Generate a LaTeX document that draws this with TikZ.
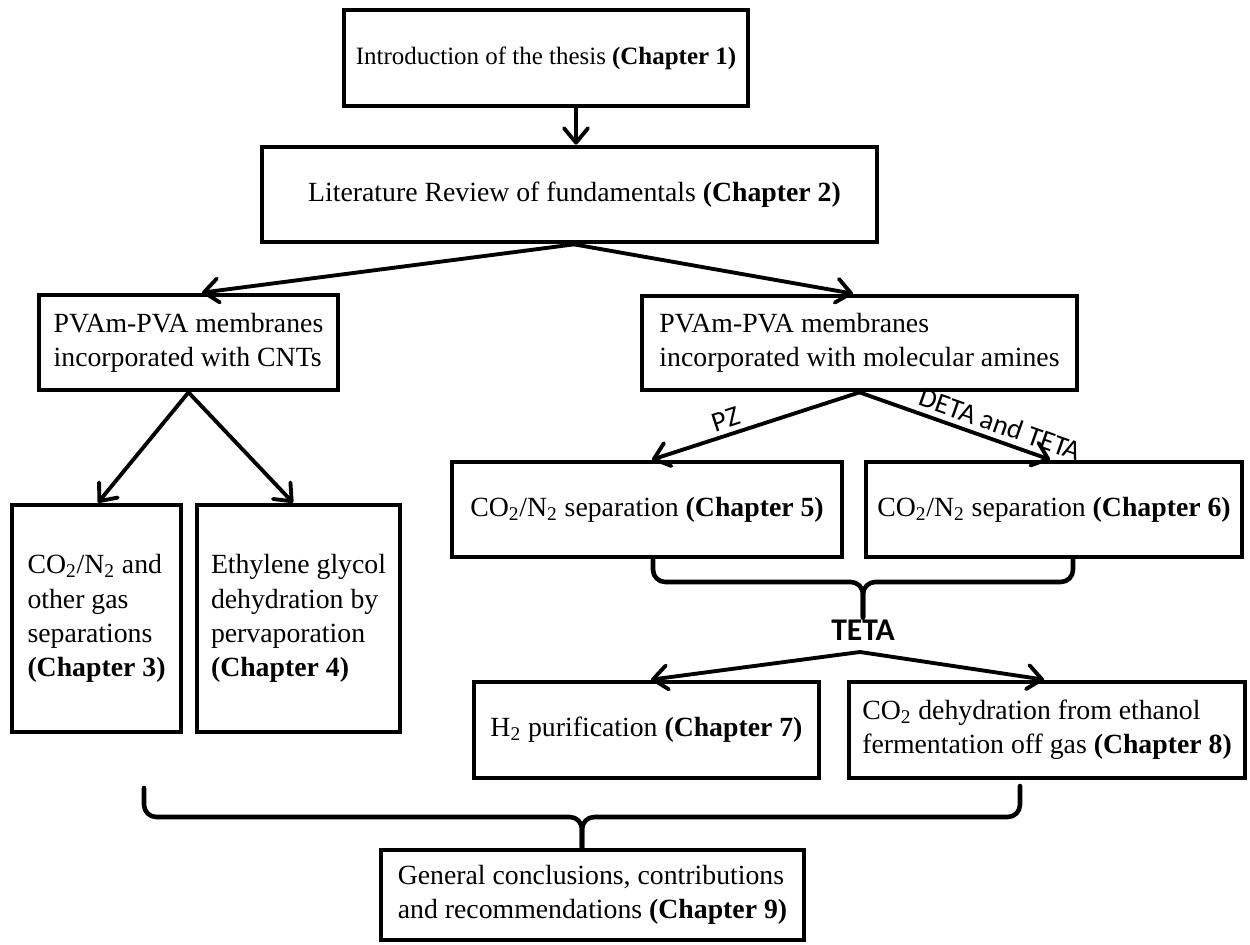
\documentclass[tikz,border=0pt]{standalone}
\usepackage{fontspec}
\setmainfont{Liberation Serif}
\newfontfamily\calibri{Carlito}
\usetikzlibrary{arrows.meta}
\begin{document}
\begin{tikzpicture}[x=0.02cm,y=-0.02cm,
  box/.style={draw, line width=2.7pt, inner sep=0pt, align=left, font=\fontsize{15.8}{19.5}\selectfont},
  arr/.style={line width=2.2pt, line cap=round, -{Straight Barb[length=2.9mm,width=4.8mm,line cap=round,line join=round]}},
  brace/.style={line width=2.6pt, rounded corners=7pt, line cap=round},
  lbl/.style={font=\calibri\fontsize{16}{18}\selectfont, inner sep=1pt},
  tlbl/.style={font=\calibri\bfseries\fontsize{18}{20}\selectfont, inner sep=1pt}]
\useasboundingbox (0,0) rectangle (1250,945);

% boxes
\node[box, minimum width=8.08cm, minimum height=1.92cm, font=\fontsize{14.2}{19}\selectfont] (b1) at (546,58) {Introduction of the thesis \textbf{(Chapter 1)}};
\node[box, minimum width=12.3cm, minimum height=1.9cm] (b2) at (569.5,194.5) {\hspace*{0.2cm}Literature Review of fundamentals \textbf{(Chapter 2)}};
\node[box, minimum width=5.98cm, minimum height=1.9cm] (b3) at (188.5,342.5) {PVAm-PVA membranes\\incorporated with CNTs};
\node[box, minimum width=8.7cm, minimum height=1.88cm] (b4) at (859.5,343) {PVAm-PVA membranes\\incorporated with molecular amines};
\node[box, minimum width=3.38cm, minimum height=4.54cm] (b5) at (96.5,618.5) {CO\textsubscript{2}/N\textsubscript{2} and\\other gas\\separations\\\textbf{(Chapter 3)}};
\node[box, minimum width=4.06cm, minimum height=4.54cm] (b6) at (298.5,618.5) {Ethylene glycol\\dehydration by\\pervaporation\\\textbf{(Chapter 4)}};
\node[box, minimum width=7.8cm, minimum height=1.9cm] (b7) at (647,509.5) {CO\textsubscript{2}/N\textsubscript{2} separation \textbf{(Chapter 5)}};
\node[box, minimum width=7.52cm, minimum height=1.9cm] (b8) at (1054,509.5) {CO\textsubscript{2}/N\textsubscript{2} separation \textbf{(Chapter 6)}};
\node[box, minimum width=6.9cm, minimum height=1.92cm] (b9) at (646.5,730) {H\textsubscript{2} purification \textbf{(Chapter 7)}};
\node[box, minimum width=7.92cm, minimum height=1.92cm] (b10) at (1047,730) {CO\textsubscript{2} dehydration from ethanol\\fermentation off gas \textbf{(Chapter 8)}};
\node[box, minimum width=8.46cm, minimum height=1.8cm] (b11) at (592.5,895) {General conclusions, contributions\\and recommendations \textbf{(Chapter 9)}};

\node[tlbl] (teta) at (863,630) {TETA};

% helper x positions
\coordinate (p1) at (576,0);
\coordinate (p2) at (574,0);
\coordinate (p3) at (202,0);
\coordinate (p4) at (853,0);
\coordinate (p5) at (98,0);
\coordinate (p6) at (293,0);
\coordinate (p7) at (652,0);
\coordinate (p8) at (1050,0);
\coordinate (p9) at (651,0);
\coordinate (p10) at (1044,0);
\coordinate (t1) at (653,0);
\coordinate (t2) at (1073,0);
\coordinate (tm) at (863,582);
\coordinate (ap) at (860,652);
\coordinate (ob1) at (144,788);
\coordinate (ob2) at (1020,786);
\coordinate (om) at (582,817);

% arrows
\draw[arr] (b1.south -| p1) -- (b2.north -| p1);
\draw[arr] (b2.south -| p2) -- (b3.north -| p3);
\draw[arr] (b2.south -| p2) -- (b4.north -| p4);
\draw[arr] (b3.south) -- (b5.north -| p5);
\draw[arr] (b3.south) -- (b6.north -| p6);
\draw[arr] (b4.south) -- node[lbl, sloped, above=1.5pt, pos=0.62] {PZ} (b7.north -| p7);
\draw[arr] (b4.south) -- node[lbl, sloped, above=2pt, pos=0.71] {DETA and TETA} (b8.north -| p8);
\draw[arr] (ap) -- (b9.north -| p9);
\draw[arr] (ap) -- (b10.north -| p10);

% braces
\draw[brace] (b7.south -| t1) |- (tm) -- (teta.north);
\draw[brace] (b8.south -| t2) |- (tm) -- (teta.north);
\draw[brace] (ob1) |- (om) -- (b11.north -| om);
\draw[brace] (ob2) |- (om) -- (b11.north -| om);
\end{tikzpicture}
\end{document}
